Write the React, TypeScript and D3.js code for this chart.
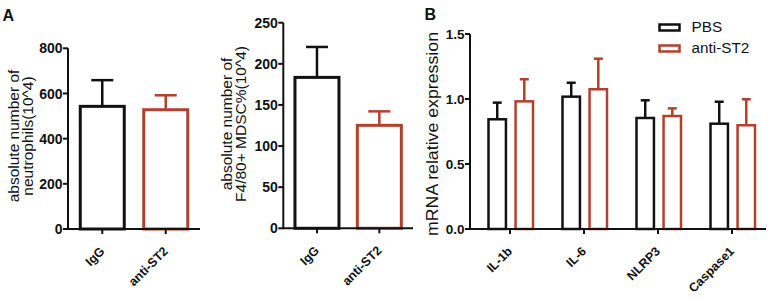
import React from "react";
import * as d3 from "d3";

const RED = "#b0412b";
const BLACK = "#111111";
const FONT = "Arial, 'Liberation Sans', Helvetica, sans-serif";

// Panel A1
const a1Categories = ["IgG", "anti-ST2"];
const a1Values = [543, 528];
const a1Errors = [116, 64];
const a1Ticks = [0, 200, 400, 600, 800];

// Panel A2
const a2Categories = ["IgG", "anti-ST2"];
const a2Values = [183.5, 125.2];
const a2Errors = [37, 17];
const a2Ticks = [0, 50, 100, 150, 200, 250];

// Panel B
const bCategories = ["IL-1b", "IL-6", "NLRP3", "Caspase1"];
const bSeries = ["PBS", "anti-ST2"];
const bPBS = [0.844, 1.018, 0.854, 0.81];
const bPBSErr = [0.128, 0.107, 0.136, 0.169];
const bAnti = [0.982, 1.075, 0.869, 0.798];
const bAntiErr = [0.17, 0.235, 0.059, 0.2];
const bTicks = [0, 0.5, 1.0, 1.5];

const colors = [BLACK, RED];

type SimpleProps = {
  x0: number; x1: number; yTop: number; yBottom: number; max: number;
  ticks: number[]; cats: string[]; values: number[]; errors: number[];
  barW: number; labelLines: string[]; labelX: number[]; labelY: number;
  tickFmt: (v: number) => string; pad: number;
};

function CatLabel({ cx, yBottom, text }: { cx: number; yBottom: number; text: string }) {
  return (
    <g>
      <line x1={cx} x2={cx} y1={yBottom} y2={yBottom + 5} stroke={BLACK} strokeWidth={2} />
      <text transform={`translate(${cx + 3},${yBottom + 23}) rotate(-45)`} textAnchor="end" fontFamily={FONT} fontWeight="bold" fontSize={12.5} fill={BLACK}>{text}</text>
    </g>
  );
}

function SimplePanel(p: SimpleProps) {
  const y = d3.scaleLinear().domain([0, p.max]).range([p.yBottom, p.yTop]);
  const x = d3.scaleBand().domain(p.cats).range([p.x0, p.x1]).paddingOuter(p.pad).paddingInner(0);
  return (
    <g>
      {p.cats.map((c, i) => {
        const cx = x(c)! + x.bandwidth() / 2;
        const top = y(p.values[i]);
        const et = y(p.values[i] + p.errors[i]);
        const col = colors[i];
        return (
          <g key={c}>
            <line x1={cx} x2={cx} y1={top} y2={et} stroke={col} strokeWidth={2.5} />
            <line x1={cx - 11} x2={cx + 11} y1={et} y2={et} stroke={col} strokeWidth={2.5} />
            <rect x={cx - p.barW / 2} y={top} width={p.barW} height={p.yBottom - top} fill="white" stroke={col} strokeWidth={3} />
          </g>
        );
      })}
      <line x1={p.x0} x2={p.x0} y1={p.yTop} y2={p.yBottom} stroke={BLACK} strokeWidth={2} />
      <line x1={p.x0 - 1} x2={p.x1} y1={p.yBottom} y2={p.yBottom} stroke={BLACK} strokeWidth={2} />
      {p.ticks.map((t) => (
        <g key={t}>
          <line x1={p.x0 - 5} x2={p.x0} y1={y(t)} y2={y(t)} stroke={BLACK} strokeWidth={2} />
          <text x={p.x0 - 5.5} y={y(t)} dy="0.36em" textAnchor="end" fontFamily={FONT} fontWeight="bold" fontSize={14} fill={BLACK}>{p.tickFmt(t)}</text>
        </g>
      ))}
      {p.cats.map((c) => (
        <CatLabel key={c} cx={x(c)! + x.bandwidth() / 2} yBottom={p.yBottom} text={c} />
      ))}
      {p.labelLines.map((l, i) => (
        <text key={i} transform={`translate(${p.labelX[i]},${p.labelY}) rotate(-90)`} textAnchor="middle" fontFamily={FONT} fontSize={15.5} fill={BLACK}>{l}</text>
      ))}
    </g>
  );
}

function PanelB() {
  const x0 = 470, x1 = 766, yTop = 34, yBottom = 229;
  const y = d3.scaleLinear().domain([0, 1.5]).range([yBottom, yTop]);
  const x = d3.scaleBand().domain(bCategories).range([x0 + 3, x0 + 3 + 74 * 4]).paddingInner(0).paddingOuter(0);
  const xs = d3.scaleBand().domain(bSeries).range([0, 46]).paddingInner(0.3);
  const vals = [bPBS, bAnti];
  const errs = [bPBSErr, bAntiErr];
  return (
    <g>
      {bCategories.map((c, ci) => (
        <g key={c}>
          {bSeries.map((s, si) => {
            const left = x(c)! + 15.5 + xs(s)!;
            const w = xs.bandwidth() - 1.5;
            const cx = left + w / 2;
            const top = y(vals[si][ci]);
            const et = y(vals[si][ci] + errs[si][ci]);
            const col = colors[si];
            return (
              <g key={s}>
                <line x1={cx} x2={cx} y1={top} y2={et} stroke={col} strokeWidth={2.5} />
                <line x1={cx - 4.5} x2={cx + 4.5} y1={et} y2={et} stroke={col} strokeWidth={2.5} />
                <rect x={left} y={top} width={w} height={yBottom - top} fill="white" stroke={col} strokeWidth={2.5} />
              </g>
            );
          })}
        </g>
      ))}
      <line x1={x0} x2={x0} y1={yTop} y2={yBottom} stroke={BLACK} strokeWidth={2} />
      <line x1={x0 - 1} x2={x1} y1={yBottom} y2={yBottom} stroke={BLACK} strokeWidth={2} />
      {bTicks.map((t) => (
        <g key={t}>
          <line x1={x0 - 5} x2={x0} y1={y(t)} y2={y(t)} stroke={BLACK} strokeWidth={2} />
          <text x={x0 - 5.5} y={y(t)} dy="0.36em" textAnchor="end" fontFamily={FONT} fontWeight="bold" fontSize={13.5} fill={BLACK}>{d3.format(".1f")(t)}</text>
        </g>
      ))}
      {bCategories.map((c) => (
        <CatLabel key={c} cx={x(c)! + 37} yBottom={yBottom} text={c} />
      ))}
      <text transform={`translate(438,134) rotate(-90)`} textAnchor="middle" fontFamily={FONT} fontSize={16.5} textLength={204} lengthAdjust="spacingAndGlyphs" fill={BLACK}>mRNA relative expression</text>
      {bSeries.map((s, i) => (
        <g key={s}>
          <rect x={659.5} y={24.5 + i * 21} width={20} height={6} fill="white" stroke={colors[i]} strokeWidth={2.5} />
          <text x={691.5} y={32.3 + i * 20.6} fontFamily={FONT} fontSize={15.3} fill={BLACK}>{s}</text>
        </g>
      ))}
    </g>
  );
}

export default function App() {
  return (
    <svg width={772} height={299} style={{ position: "absolute", left: 0, top: 0, background: "white" }}>
      <rect width={772} height={299} fill="white" />
      <text x={2.5} y={20.7} fontFamily={FONT} fontWeight="bold" fontSize={16} fill={BLACK}>A</text>
      <text x={424.5} y={20.2} fontFamily={FONT} fontWeight="bold" fontSize={16} fill={BLACK}>B</text>
      <SimplePanel x0={68} x1={200} yTop={48.3} yBottom={229} max={800} ticks={a1Ticks}
        cats={a1Categories} values={a1Values} errors={a1Errors} barW={44}
        labelLines={["absolute number of", "neutrophils(10^4)"]} labelX={[18.8, 33.2]} labelY={136}
        tickFmt={(v) => String(v)} pad={0.04} />
      <SimplePanel x0={283.3} x1={413} yTop={22.7} yBottom={228.3} max={250} ticks={a2Ticks}
        cats={a2Categories} values={a2Values} errors={a2Errors} barW={44}
        labelLines={["absolute number of", "F4/80+ MDSC%(10^4)"]} labelX={[232, 246]} labelY={124}
        tickFmt={(v) => String(v)} pad={0.04} />
      <PanelB />
    </svg>
  );
}
